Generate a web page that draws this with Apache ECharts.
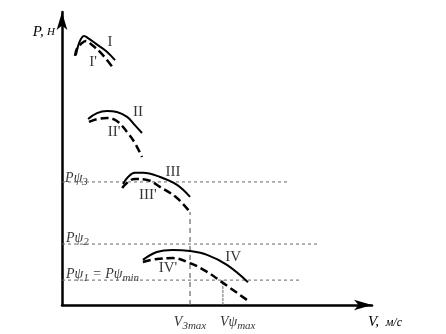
<!DOCTYPE html>
<html>
<head>
<meta charset="utf-8">
<script src="https://cdn.jsdelivr.net/npm/echarts@6/dist/echarts.min.js"></script>
<style>html,body{margin:0;padding:0;background:#fff}#c{width:446px;height:334px}</style>
</head>
<body>
<div id="c"></div>
<script>
// Schematic data (arbitrary units: V 0..100, P 0..100)
const curveI      = [[4.5,85.3],[5.2,88.4],[6.1,90.8],[7.1,91.8],[8.4,91.1],[11.0,89.1],[14.2,86.7],[17.1,83.6]];
const curveIp     = [[4.2,85.0],[4.8,87.4],[6.1,89.1],[7.7,90.1],[9.7,88.7],[12.3,86.3],[14.5,83.6],[16.5,80.9]];
const curveII     = [[8.4,63.5],[11.3,65.5],[14.5,66.2],[17.7,65.9],[21.0,64.2],[23.5,61.4],[25.8,58.7]];
const curveIIp    = [[8.7,62.5],[11.6,63.5],[14.5,63.8],[17.7,62.8],[21.0,59.0],[23.5,55.3],[25.8,50.5]];
const curveIII    = [[19.7,41.3],[21.3,43.7],[23.5,45.1],[26.1,45.1],[31.6,43.7],[37.1,41.0],[41.3,36.9]];
const curveIIIp   = [[19.4,39.9],[21.3,42.0],[23.5,43.0],[27.4,42.7],[31.6,40.3],[37.1,36.5],[41.3,31.7]];
const curveIV     = [[26.1,15.4],[30.6,18.1],[35.8,18.8],[41.3,18.4],[46.8,17.1],[53.2,13.7],[60.0,7.8]];
const curveIVp    = [[26.1,14.7],[30.6,15.7],[35.8,16.0],[41.3,14.3],[46.8,11.3],[51.6,7.8],[59.7,1.7]];

const Ppsi3 = 42.0, Ppsi2 = 20.8, Ppsi1 = 8.5;
const Ppsi3End = 72.9, Ppsi2End = 82.6, Ppsi1End = 76.8;
const V3max = 41.3, V3maxTop = 31.7;
const Vpsimax = 51.9;

const curveNames  = ['I', "I'", 'II', "II'", 'III', "III'", 'IV', "IV'"];
const curveLabelV = [15.5, 10.0, 24.5, 16.8, 35.8, 27.7, 55.2, 34.2];
const curveLabelP = [89.8, 82.9, 65.9, 59.0, 45.4, 37.5, 16.4, 12.6];

const levelLabels = ['{it|Pψ}{sub|3}', '{it|Pψ}{sub|2}', '{it|Pψ}{sub|1}{it| = Pψ}{sub|min}'];
const levelLabelV = [1.0, 1.3, 1.3];
const levelLabelP = [43.3, 22.9, 10.6];

const serif = 'Liberation Serif, Times New Roman, serif';
const rich = {
  it: {fontFamily: serif, fontStyle: 'italic', fontSize: 14, color: '#000'},
  sub: {fontFamily: serif, fontStyle: 'italic', fontSize: 11, color: '#000', padding: [8,0,0,0]}
};

function solid(data){ return {type:'line', data, smooth:0.4, symbol:'none', silent:true,
  lineStyle:{color:'#000', width:2}}; }
function dashed(data){ return {type:'line', data, smooth:0.4, symbol:'none', silent:true,
  lineStyle:{color:'#000', width:2.5, type:[8,4]}}; }
function refLine(data, w, dash){ return {type:'line', data, symbol:'none', silent:true,
  lineStyle:{color:'#666', width:w, type:dash}}; }

const chart = echarts.init(document.getElementById('c'), null, {renderer:'canvas'});
chart.setOption({
  animation:false,
  backgroundColor:'#fff',
  grid:{left:62, right:74, top:12, bottom:29},
  xAxis:{type:'value', min:0, max:100,
    axisLine:{lineStyle:{color:'#000', width:2.5}, symbol:['none','arrow'], symbolSize:[8,18]},
    axisTick:{show:false}, axisLabel:{show:false}, splitLine:{show:false},
    name:'{v|V,}  {u|м/с}', nameLocation:'end', nameGap:30,
    nameTextStyle:{align:'right', verticalAlign:'top', padding:[10,0,0,0],
      rich:{v:{fontFamily:serif, fontStyle:'italic', fontSize:15, color:'#000'},
            u:{fontFamily:serif, fontStyle:'italic', fontSize:12, color:'#000'}}}
  },
  yAxis:{type:'value', min:0, max:100,
    axisLine:{lineStyle:{color:'#000', width:2.5}, symbol:['none','arrow'], symbolSize:[8,18]},
    axisTick:{show:false}, axisLabel:{show:false}, splitLine:{show:false},
    name:'{p|P,} {n|Н}', nameLocation:'end', nameGap:-20,
    nameTextStyle:{align:'right', verticalAlign:'middle', padding:[0,7,0,0],
      rich:{p:{fontFamily:serif, fontStyle:'italic', fontSize:15, color:'#000'},
            n:{fontFamily:serif, fontStyle:'italic', fontSize:11, color:'#000'}}}
  },
  series:[
    refLine([[0,Ppsi3],[Ppsi3End,Ppsi3]], 1, [3,3]),
    refLine([[0,Ppsi2],[Ppsi2End,Ppsi2]], 1, [3,3]),
    refLine([[0,Ppsi1],[Ppsi1End,Ppsi1]], 1, [3,3]),
    refLine([[V3max,0],[V3max,V3maxTop]], 1.2, [5,4]),
    refLine([[Vpsimax,0],[Vpsimax,Ppsi1]], 1, [3,1]),
    solid(curveI), dashed(curveIp),
    solid(curveII), dashed(curveIIp),
    solid(curveIII), dashed(curveIIIp),
    solid(curveIV), dashed(curveIVp),
    {type:'scatter', symbolSize:1, itemStyle:{color:'rgba(0,0,0,0)'}, silent:true,
     data: curveNames.map((n,i)=>({value:[curveLabelV[i], curveLabelP[i]], name:n})),
     label:{show:true, position:'inside', formatter:p=>p.name,
       fontFamily:serif, fontSize:15, color:'#000'}},
    {type:'scatter', symbolSize:1, itemStyle:{color:'rgba(0,0,0,0)'}, silent:true,
     data: levelLabels.map((n,i)=>({value:[levelLabelV[i], levelLabelP[i]], name:n})),
     label:{show:true, position:'inside', align:'left', verticalAlign:'middle',
       formatter:p=>p.name, rich}},
    {type:'scatter', symbolSize:1, itemStyle:{color:'rgba(0,0,0,0)'}, silent:true, clip:false,
     data:[
       {value:[V3max,0], name:'{it|V}{sub|3max}', label:{align:'center'}},
       {value:[Vpsimax,0], name:'{it|Vψ}{sub|max}', label:{align:'left', offset:[-3,0]}}
     ],
     label:{show:true, position:'bottom', distance:7, formatter:p=>p.name, rich}}
  ]
});
</script>
</body>
</html>
